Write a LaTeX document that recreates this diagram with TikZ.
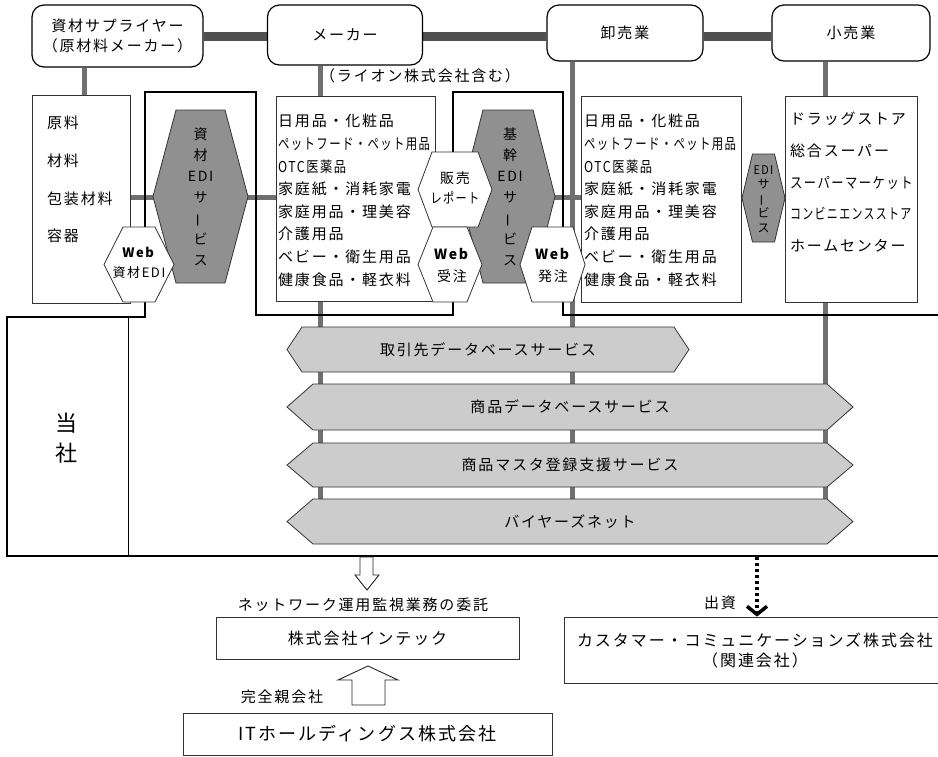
\documentclass[tikz,border=0pt]{standalone}
\usepackage{fontspec}
\setmainfont{Noto Sans CJK JP}[LetterSpace=12]
\usetikzlibrary{calc,backgrounds,arrows.meta}

\definecolor{bargray}{HTML}{505050}
\definecolor{linegray}{HTML}{707070}
\definecolor{hexgray}{HTML}{909090}
\definecolor{svcgray}{HTML}{CCCCCC}

\newcommand\drawhex[5][]{%
  \draw[#1] ($(#2)+(-#3,0)$) -- ($(#2)+(-#3+#5,-#4)$) -- ($(#2)+(#3-#5,-#4)$)
    -- ($(#2)+(#3,0)$) -- ($(#2)+(#3-#5,#4)$) -- ($(#2)+(-#3+#5,#4)$) -- cycle;}
\newcommand\vbarchar{\rotatebox[origin=c]{90}{ー}}

\begin{document}
\begin{tikzpicture}[x=1pt, y=-1pt,
  head/.style = {draw, rounded corners=12pt, fill=white, line width=1.2pt, align=center,
                 inner sep=0pt, font=\fontsize{15}{20}\selectfont},
  group/.style = {draw=black!80, fill=white, line width=0.9pt, inner sep=0pt},
  items/.style = {align=left, inner sep=0pt, anchor=north west},
  hextext/.style = {align=center, inner sep=0pt, font=\fontsize{14}{21}\selectfont},
  hexdark/.style = {draw=black!80, fill=hexgray, line width=0.8pt},
  hexlight/.style = {draw=black!80, fill=white, line width=0.8pt},
  svc/.style = {draw=black!80, fill=svcgray, line width=0.8pt},
  company/.style = {draw=black!80, fill=white, line width=0.9pt, inner sep=0pt, align=center},
  hbar/.style = {line width=9pt, bargray},
  vbar/.style = {line width=5pt, linegray},
  frame/.style = {line width=2.8pt, black},
  hollow/.style = {draw=black!85, fill=white, line width=0.9pt},
  font=\fontsize{15}{18}\selectfont
  ]
  \useasboundingbox (0,0) rectangle (938,756);

  \node[head, minimum width=171, minimum height=62] (sup) at (117.5,36) {資材サプライヤー\\（原材料メーカー）};
  \node[head, minimum width=155, minimum height=60] (mak) at (345,35) {メーカー};
  \node[head, minimum width=156, minimum height=56] (whl) at (625,33) {卸売業};
  \node[head, minimum width=158, minimum height=56] (ret) at (851,33) {小売業};
  \node[anchor=west, inner sep=0pt] (lion) at (320,76) {（ライオン株式会社含む）};

  \draw[frame] (940,315) -- (563,315) -- (563,92) -- (453,92) -- (453,315) -- (256,315)
    -- (256,92) -- (145,92) -- (145,317) -- (7,317) -- (7,556) -- (940,556);
  \draw[line width=0.9pt] (128,317) -- (128,556);
  \node[align=center, inner sep=0pt, font=\fontsize{22}{30}\selectfont] (tosha) at (67,438) {当\\社};

  \node[group, minimum width=98, minimum height=208] (rawbox) at (81,199) {};
  \node[group, minimum width=159, minimum height=205] (makbox) at (355.5,198.5) {};
  \node[group, minimum width=160, minimum height=206] (whlbox) at (661,199) {};
  \node[group, minimum width=132, minimum height=206] (retbox) at (851,199) {};

  \node[items, font=\fontsize{15}{37.7}\selectfont] (rawitems) at (47,116) {原料\\材料\\包装材料\\容器};
  \node[items, font=\fontsize{15}{22.6}\selectfont] (makitems) at (278,114) {日用品・化粧品\\\scalebox{0.76}[1]{ペットフード・ペット用品}\\\scalebox{0.82}[1]{OTC医薬品}\\家庭紙・消耗家電\\家庭用品・理美容\\介護用品\\ベビー・衛生用品\\健康食品・軽衣料};
  \node[items, font=\fontsize{15}{22.6}\selectfont] (whlitems) at (584,114) {日用品・化粧品\\\scalebox{0.76}[1]{ペットフード・ペット用品}\\\scalebox{0.82}[1]{OTC医薬品}\\家庭紙・消耗家電\\家庭用品・理美容\\介護用品\\ベビー・衛生用品\\健康食品・軽衣料};
  \node[items, font=\fontsize{15}{31.7}\selectfont] (retitems) at (790,112) {ドラッグストア\\総合スーパー\\\scalebox{0.82}[1]{スーパーマーケット}\\\scalebox{0.73}[1]{コンビニエンスストア}\\ホームセンター};

  \drawhex[hexdark]{200.5,196.5}{47.5}{86.5}{23}
  \node[hextext] (zaiedi) at (200.5,196.5) {資\\材\\EDI\\サ\\\vbarchar\\ビ\\ス};
  \drawhex[hexlight]{139,264.5}{35}{37.5}{19}
  \node[hextext, font=\fontsize{13}{20}\selectfont] (webzai) at (139,263) {\textbf{Web}\\資材EDI};

  \drawhex[hexdark]{508,196.5}{47}{86.5}{22}
  \node[hextext] (kikan) at (510,196.5) {基\\幹\\EDI\\サ\\\vbarchar\\ビ\\ス};
  \drawhex[hexlight]{455,189.5}{37}{37.5}{14}
  \node[hextext, font=\fontsize{14}{20}\selectfont] (sales) at (455,188) {販売\\\scalebox{0.8}[1]{レポート}};
  \drawhex[hexlight]{450,264.5}{32}{37.5}{15}
  \node[hextext, font=\fontsize{14}{22}\selectfont] (juchu) at (452,265) {\textbf{Web}\\受注};
  \drawhex[hexlight]{552.5,264.5}{32.5}{37.5}{12}
  \node[hextext, font=\fontsize{14}{22}\selectfont] (hatchu) at (553,265) {\textbf{Web}\\発注};
  \drawhex[hexdark]{763.5,198}{21.5}{44}{10.5}
  \node[hextext, font=\fontsize{12}{14.5}\selectfont] (retedi) at (763.5,199) {\scalebox{0.9}[1]{EDI}\\サ\\\vbarchar\\ビ\\ス};

  \drawhex[svc]{488,349.5}{201}{22.5}{15}
  \node (partner) at (488,349.5) {取引先データベースサービス};
  \drawhex[svc]{570,407}{283}{23}{26}
  \node (itemdb) at (570,407) {商品データベースサービス};
  \drawhex[svc]{570,465}{283}{22}{26}
  \node (master) at (570,465) {商品マスタ登録支援サービス};
  \drawhex[svc]{570,521.5}{283}{22.5}{26}
  \node (buyer) at (570,521.5) {バイヤーズネット};

  \draw[hollow] (360,557) -- (373,557) -- (373,575) -- (379,575) -- (367,590) -- (355,575) -- (360,575) -- cycle;
  \node (netlbl) at (363,605) {ネットワーク運用監視業務の委託};
  \node[company, minimum width=303, minimum height=42, font=\fontsize{16}{18}\selectfont] (intec) at (367.5,638) {株式会社インテック};
  \draw[hollow] (352,705) -- (385,705) -- (385,680) -- (398,680) -- (368,666) -- (338,680) -- (352,680) -- cycle;
  \node (parent) at (282,697) {完全親会社};
  \node[company, minimum width=369, minimum height=42, font=\fontsize{18}{20}\selectfont] (ithd) at (367.5,734) {ITホールディングス株式会社};

  \coordinate (fund) at (757,557);
  \node (invest) at (720,603) {出資};
  \node[company, minimum width=382, minimum height=66, font=\fontsize{16}{20}\selectfont] (cust) at (755,650) {カスタマー・コミュニケーションズ株式会社\\（関連会社）};
  \draw[line width=3.5pt, dash pattern=on 3pt off 3pt, -{Straight Barb[length=8pt, width=20pt, line width=3.5pt]}] (fund) -- (fund |- cust.north);

  \begin{scope}[on background layer]
    \draw[hbar] (sup.east |- 0,36) -- (mak.west |- 0,36);
    \draw[hbar] (mak.east |- 0,36) -- (whl.west |- 0,36);
    \draw[hbar] (whl.east |- 0,36) -- (ret.west |- 0,36);
    \draw[vbar] ($(rawbox.north)+(3,0)$) -- ($(rawbox.north |- sup.south)+(3,0)$);
    \draw[vbar] ($(mak.south)+(-25,0)$) -- ($(mak.south |- buyer)+(-25,0)$);
    \draw[vbar] ($(whl.south)+(-53,0)$) -- ($(whl.south |- buyer)+(-53,0)$);
    \draw[vbar] ($(ret.south)+(-26,0)$) -- ($(ret.south |- buyer)+(-26,0)$);
    \draw[vbar] (rawbox.east |- 0,197) -- (retbox.west |- 0,197);
  \end{scope}
\end{tikzpicture}
\end{document}
